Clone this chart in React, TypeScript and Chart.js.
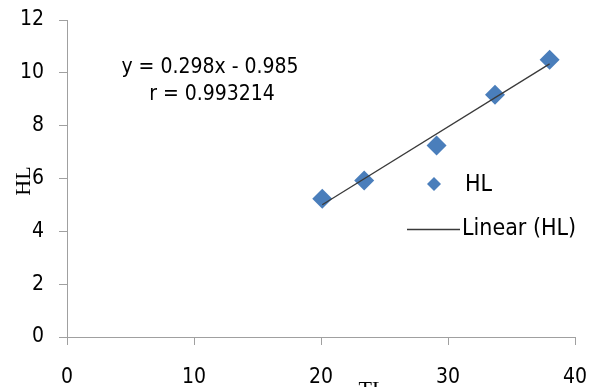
import React, { useEffect, useRef } from "react";
import { Chart, registerables } from "chart.js";

Chart.register(...registerables);

const tlValues = [20.1, 23.4, 29.1, 33.7, 38.0];
const hlValues = [5.23, 5.92, 7.25, 9.17, 10.5];
const slope = 0.298;
const intercept = -0.985;
const rValue = "0.993214";
const xTicks = [0, 10, 20, 30, 40];
const yTicks = [0, 2, 4, 6, 8, 10, 12];

const blue = "#4A7EBB";
const axisGray = "#A0A0A0";
const lineColor = "#3A3A3A";
const sansFont = "'DejaVu Sans Condensed', 'DejaVu Sans', sans-serif";
const serifFont = "'Liberation Serif', 'Times New Roman', serif";

const overlayPlugin = {
  id: "overlay",
  afterDraw(chart: any) {
    const ctx = chart.ctx;
    ctx.save();
    ctx.fillStyle = "#000";
    // equation
    ctx.font = `21px ${sansFont}`;
    ctx.textAlign = "center";
    ctx.textBaseline = "middle";
    const sign = intercept < 0 ? "-" : "+";
    ctx.fillText(`y = ${slope}x ${sign} ${Math.abs(intercept)}`, 210, 68);
    ctx.fillText(`r = ${rValue}`, 212, 95);
    // legend
    const mx = 434, my = 184, mr = 7;
    ctx.fillStyle = blue;
    ctx.beginPath();
    ctx.moveTo(mx, my - mr);
    ctx.lineTo(mx + mr, my);
    ctx.lineTo(mx, my + mr);
    ctx.lineTo(mx - mr, my);
    ctx.closePath();
    ctx.fill();
    ctx.fillStyle = "#000";
    ctx.textAlign = "left";
    ctx.font = `23px ${sansFont}`;
    ctx.fillText("HL", 465, 185);
    ctx.strokeStyle = lineColor;
    ctx.lineWidth = 1.3;
    ctx.beginPath();
    ctx.moveTo(407, 229.5);
    ctx.lineTo(460, 229.5);
    ctx.stroke();
    ctx.fillText("Linear (HL)", 462, 229);
    // axis titles
    ctx.font = `22px ${serifFont}`;
    ctx.textAlign = "center";
    ctx.save();
    ctx.translate(24, 181);
    ctx.rotate(-Math.PI / 2);
    ctx.fillText("HL", 0, 0);
    ctx.restore();
    ctx.textBaseline = "top";
    ctx.fillText("TL", 372, 379);
    ctx.restore();
  },
};

export default function App() {
  const ref = useRef<HTMLCanvasElement | null>(null);
  useEffect(() => {
    if (!ref.current) return;
    const xMin = Math.min(...tlValues);
    const xMax = Math.max(...tlValues);
    const chart = new Chart(ref.current, {
      type: "scatter",
      data: {
        datasets: [
          {
            label: "Linear (HL)",
            type: "line",
            data: [
              { x: xMin, y: slope * xMin + intercept },
              { x: xMax, y: slope * xMax + intercept },
            ],
            borderColor: lineColor,
            borderWidth: 1.3,
            pointRadius: 0,
            fill: false,
          } as any,
          {
            label: "HL",
            data: tlValues.map((x, i) => ({ x, y: hlValues[i] })),
            pointStyle: "rectRot",
            pointRadius: 10,
            pointBackgroundColor: blue,
            pointBorderColor: blue,
            borderWidth: 0,
          } as any,
        ],
      },
      options: {
        animation: false,
        responsive: false,
        layout: { padding: { top: 20, right: 0, left: 0, bottom: 0 } },
        plugins: { legend: { display: false }, tooltip: { enabled: false } },
        scales: {
          x: {
            type: "linear",
            min: 0,
            max: 40,
            afterFit: (s: any) => { s.height = 50; s.paddingRight = 16; },
            afterBuildTicks: (s: any) => { s.ticks = xTicks.map((v) => ({ value: v })); },
            grid: { drawOnChartArea: false, tickLength: 8, color: axisGray },
            border: { color: axisGray },
            ticks: { color: "#000", font: { family: sansFont, size: 21 }, padding: 20, maxRotation: 0 },
          },
          y: {
            type: "linear",
            min: 0,
            max: 12,
            afterFit: (s: any) => { s.width = 67; s.paddingTop = 5; },
            afterBuildTicks: (s: any) => { s.ticks = yTicks.map((v) => ({ value: v })); },
            grid: { drawOnChartArea: false, tickLength: 8, color: axisGray },
            border: { color: axisGray },
            ticks: { color: "#000", font: { family: sansFont, size: 21 }, padding: 15 },
          },
        },
      },
      plugins: [overlayPlugin],
    });
    return () => chart.destroy();
  }, []);
  return (
    <div style={{ position: "absolute", left: 0, top: 0, width: 591, height: 387, background: "#fff" }}>
      <canvas ref={ref} width={591} height={387} />
    </div>
  );
}
